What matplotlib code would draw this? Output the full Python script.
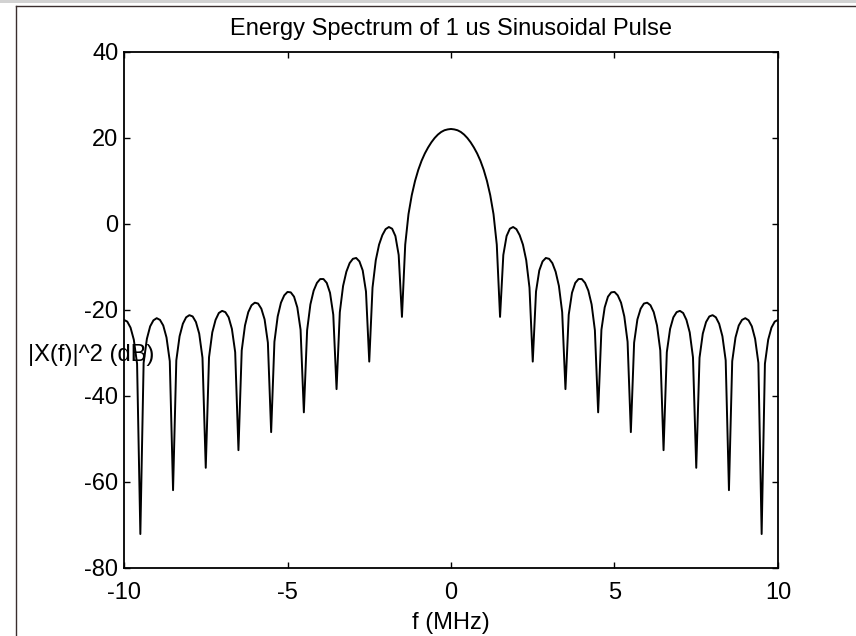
import numpy as np
import matplotlib
matplotlib.use("Agg")
import matplotlib.pyplot as plt
from matplotlib.lines import Line2D
from matplotlib.patches import Rectangle

plt.rcParams["font.family"] = ["Liberation Sans", "DejaVu Sans"]
plt.rcParams["axes.unicode_minus"] = False

# frequency grid (MHz), 0.1 MHz steps from -10 to 10
freq_mhz = np.linspace(-10, 10, 201)

# |X(f)|^2 in dB
energy_db = [
    -22.3, -22.7, -24.1, -26.9, -32.5,
    -72.1,
    -32.3, -26.7, -23.8, -22.4, -21.9, -22.3, -23.6, -26.4, -31.9,
    -61.9,
    -31.7, -26.1, -23.2, -21.7, -21.2, -21.5, -22.8, -25.5, -31.1,
    -56.7,
    -31.0, -25.2, -22.3, -20.7, -20.2, -20.5, -21.7, -24.4, -29.8,
    -52.6,
    -29.4, -23.6, -20.5, -18.9, -18.3, -18.5, -19.7, -22.2, -27.6,
    -48.4,
    -27.4, -21.5, -18.3, -16.6, -15.8, -15.9, -16.9, -19.4, -24.6,
    -43.8,
    -24.7, -18.7, -15.5, -13.7, -12.8, -12.8, -13.7, -16.0, -21.1,
    -38.4,
    -20.5, -14.4, -11.1, -9.1, -8.1, -7.9, -8.7, -10.8, -15.7,
    -32.0,
    -14.8, -8.4, -4.8, -2.6, -1.2, -0.7, -1.1, -2.8, -7.2,
    -21.6,
    -4.8, 2.3, 6.7, 10.0, 12.6, 14.7, 16.4, 17.8, 19.0, 20.0, 20.8, 21.4, 21.8, 22.0,
    22.1,
    22.0, 21.8, 21.4, 20.8, 20.0, 19.0, 17.8, 16.4, 14.7, 12.6, 10.0, 6.7, 2.3, -4.8,
    -21.6,
    -7.2, -2.8, -1.1, -0.7, -1.2, -2.6, -4.8, -8.4, -14.8,
    -32.0,
    -15.7, -10.8, -8.7, -7.9, -8.1, -9.1, -11.1, -14.4, -20.5,
    -38.4,
    -21.1, -16.0, -13.7, -12.8, -12.8, -13.7, -15.5, -18.7, -24.7,
    -43.8,
    -24.6, -19.4, -16.9, -15.9, -15.8, -16.6, -18.3, -21.5, -27.4,
    -48.4,
    -27.6, -22.2, -19.7, -18.5, -18.3, -18.9, -20.5, -23.6, -29.4,
    -52.6,
    -29.8, -24.4, -21.7, -20.5, -20.2, -20.7, -22.3, -25.2, -31.0,
    -56.7,
    -31.1, -25.5, -22.8, -21.5, -21.2, -21.7, -23.2, -26.1, -31.7,
    -61.9,
    -31.9, -26.4, -23.6, -22.3, -21.9, -22.4, -23.8, -26.7, -32.3,
    -72.1,
    -32.5, -26.9, -24.1, -22.7, -22.3,
]

x_ticks = [-10, -5, 0, 5, 10]
y_ticks = [-80, -60, -40, -20, 0, 20, 40]

fig = plt.figure(figsize=(8.56, 6.36), dpi=100)
ax = fig.add_axes([124 / 856, 1 - 568 / 636, 654 / 856, 516 / 636])

ax.plot(freq_mhz, energy_db, color="black", linewidth=1.4)

ax.set_xlim(-10, 10)
ax.set_ylim(-80, 40)
ax.set_xticks(x_ticks)
ax.set_yticks(y_ticks)
ax.tick_params(direction="in", length=4.5, width=1, labelsize=17,
               top=True, right=True)
ax.tick_params(axis="y", pad=4)
ax.tick_params(axis="x", pad=10)
for s in ax.spines.values():
    s.set_linewidth(1.3)

ax.set_title("Energy Spectrum of 1 us Sinusoidal Pulse", fontsize=17, pad=12)
ax.set_xlabel("f (MHz)", fontsize=17, labelpad=6)
ax.set_ylabel("|X(f)|^2 (dB)", fontsize=17, rotation=0, ha="center", va="center")
ax.yaxis.set_label_coords(-0.0505, 0.412)

# window frame around the figure
fig.add_artist(Rectangle((0, 1 - 3 / 636), 1, 3 / 636, transform=fig.transFigure,
                         color="#d2d2d2", lw=0))
fig.add_artist(Line2D([16 / 856, 16 / 856], [0, 1 - 6 / 636], transform=fig.transFigure,
                      color="#3a2e2e", lw=1))
fig.add_artist(Line2D([16 / 856, 1], [1 - 6 / 636, 1 - 6 / 636], transform=fig.transFigure,
                      color="#3a2e2e", lw=1))

fig.savefig("out.png", dpi=100)
plt.close(fig)
